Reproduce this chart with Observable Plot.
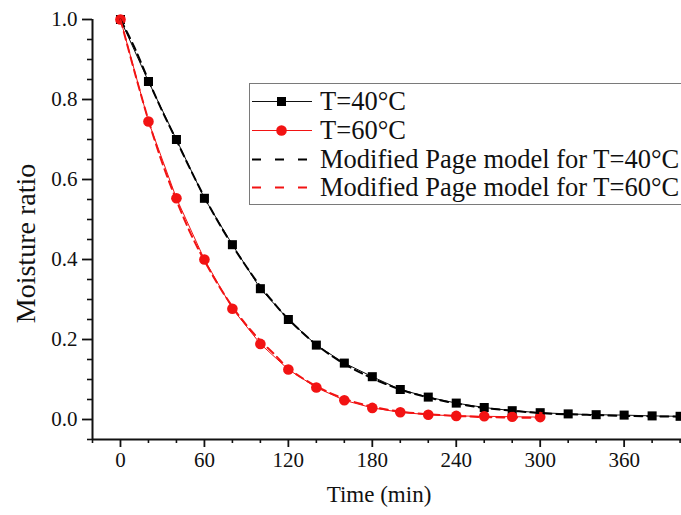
<!DOCTYPE html>
<html>
<head>
<meta charset="utf-8">
<script src="https://cdn.jsdelivr.net/npm/d3@7"></script>
<script src="https://cdn.jsdelivr.net/npm/@observablehq/plot@0.6"></script>
<style>
  html, body { margin: 0; padding: 0; background: #fff; }
  #wrap { position: relative; width: 681px; height: 515px; overflow: hidden; font-family: "Liberation Serif", "Times New Roman", serif; color: #111; }
  #wrap svg text { font-family: "Liberation Serif", "Times New Roman", serif !important; }
  #legend { position: absolute; left: 249px; top: 83px; width: 460px; height: 122px; border: 1px solid #7a7a7a; background: #fff; box-sizing: border-box; }
  .row { position: absolute; left: 0; height: 29px; width: 460px; }
  .row svg { position: absolute; left: 2px; top: 0; }
  .row span { position: absolute; left: 70px; top: 50%; transform: translateY(-52%); font-size: 26.5px; white-space: nowrap; line-height: 1; }
</style>
</head>
<body>
<div id="wrap"></div>
<script>
// ---- data ----
const time40 = [0, 20, 40, 60, 80, 100, 120, 140, 160, 180, 200, 220, 240, 260, 280, 300, 320, 340, 360, 380, 400];
const mr40   = [1.0, 0.845, 0.70, 0.553, 0.437, 0.327, 0.25, 0.186, 0.141, 0.107, 0.075, 0.056, 0.041, 0.030, 0.022, 0.017, 0.014, 0.012, 0.011, 0.009, 0.008];

const time60 = [0, 20, 40, 60, 80, 100, 120, 140, 160, 180, 200, 220, 240, 260, 280, 300];
const mr60   = [1.0, 0.745, 0.553, 0.40, 0.277, 0.189, 0.125, 0.080, 0.048, 0.029, 0.018, 0.012, 0.009, 0.008, 0.007, 0.006];

const timeModel40 = [0, 10, 20, 30, 40, 50, 60, 70, 80, 90, 100, 110, 120, 140, 160, 180, 200, 220, 240, 260, 280, 300, 320, 340, 360, 380, 400];
const model40     = [1.0, 0.93, 0.848, 0.77, 0.698, 0.625, 0.556, 0.493, 0.435, 0.382, 0.333, 0.29, 0.251, 0.187, 0.139, 0.103, 0.075, 0.055, 0.040, 0.029, 0.022, 0.016, 0.013, 0.011, 0.009, 0.008, 0.007];

const timeModel60 = [0, 10, 20, 30, 40, 50, 60, 70, 80, 90, 100, 110, 120, 140, 160, 180, 200, 220, 240, 260, 280, 300];
const model60     = [1.0, 0.87, 0.748, 0.64, 0.548, 0.466, 0.397, 0.336, 0.282, 0.236, 0.197, 0.163, 0.128, 0.083, 0.052, 0.032, 0.020, 0.013, 0.009, 0.006, 0.005, 0.004];

const xMajorTicks = [0, 60, 120, 180, 240, 300, 360];
const xMinorTicks = [-20, 20, 40, 80, 100, 140, 160, 200, 220, 260, 280, 320, 340, 380, 400];
const yMajorTicks = [0.0, 0.2, 0.4, 0.6, 0.8, 1.0];
const yMinorTicks = [-0.05, 0.05, 0.1, 0.15, 0.25, 0.3, 0.35, 0.45, 0.5, 0.55, 0.65, 0.7, 0.75, 0.85, 0.9, 0.95];

const xLabel = "Time (min)";
const yLabel = "Moisture ratio";
const seriesNames = ["T=40°C", "T=60°C", "Modified Page model for T=40°C", "Modified Page model for T=60°C"];

// ---- tables ----
const d40 = time40.map((t, i) => ({t, v: mr40[i]}));
const d60 = time60.map((t, i) => ({t, v: mr60[i]}));
const m40 = timeModel40.map((t, i) => ({t, v: model40[i]}));
const m60 = timeModel60.map((t, i) => ({t, v: model60[i]}));

const RED = "#f21313";
const FONT = "'Liberation Serif', 'Times New Roman', serif";

const chart = Plot.plot({
  width: 681,
  height: 515,
  marginTop: 19,
  marginBottom: 76,
  marginLeft: 92,
  marginRight: 0,
  style: {fontFamily: FONT, fontSize: "21px", color: "#111", background: "#fff", overflow: "visible"},
  x: {domain: [-20, 401], axis: null},
  y: {domain: [-0.05, 1.0], axis: null},
  marks: [
    // minor ticks
    Plot.axisX(xMinorTicks, {tickSize: 4, strokeWidth: 1.6, tickFormat: () => "", label: null}),
    Plot.axisY(yMinorTicks, {tickSize: 5, strokeWidth: 1.6, tickFormat: () => "", label: null}),
    // major ticks + labels
    Plot.axisX(xMajorTicks, {tickSize: 8, tickPadding: 5, strokeWidth: 1.8, fontSize: 21, fontFamily: FONT, tickFormat: d => String(d), label: null}),
    Plot.axisY(yMajorTicks, {tickSize: 10, tickPadding: 5, strokeWidth: 1.8, fontSize: 21, fontFamily: FONT, tickFormat: d3.format(".1f"), label: null}),
    // axis lines
    Plot.ruleY([-0.05], {stroke: "#111", strokeWidth: 2}),
    Plot.ruleX([-20], {stroke: "#111", strokeWidth: 2}),
    // axis titles
    Plot.text([xLabel], {frameAnchor: "bottom", dy: 62, dx: -8, fontSize: 23, fontFamily: FONT, fill: "#111"}),
    Plot.text([yLabel], {frameAnchor: "left", textAnchor: "middle", dx: -66, dy: 14, rotate: -90, fontSize: 28, fontFamily: FONT, fill: "#111"}),
    // experimental data
    Plot.line(d40, {x: "t", y: "v", stroke: "#111", strokeWidth: 1}),
    Plot.line(d60, {x: "t", y: "v", stroke: RED, strokeWidth: 1}),
    Plot.dot(d40, {x: "t", y: "v", symbol: "square", fill: "#000", r: 5.1}),
    Plot.dot(d60, {x: "t", y: "v", symbol: "circle", fill: RED, r: 5.3}),
    // model curves
    Plot.line(m40, {x: "t", y: "v", stroke: "#000", strokeWidth: 2, strokeDasharray: "8,5", curve: "catmull-rom"}),
    Plot.line(m60, {x: "t", y: "v", stroke: RED, strokeWidth: 2, strokeDasharray: "8,5", curve: "catmull-rom"})
  ]
});

const wrap = document.getElementById("wrap");
wrap.appendChild(chart);

// ---- legend ----
const legend = document.createElement("div");
legend.id = "legend";
const swatches = [
  `<line x1="0" y1="14.5" x2="60" y2="14.5" stroke="#111" stroke-width="1.2"/><rect x="25" y="10" width="9" height="9" fill="#000"/>`,
  `<line x1="0" y1="14.5" x2="60" y2="14.5" stroke="${RED}" stroke-width="1.2"/><circle cx="29.5" cy="14.5" r="5.3" fill="${RED}"/>`,
  `<line x1="0" y1="14.5" x2="56" y2="14.5" stroke="#000" stroke-width="2" stroke-dasharray="9,14"/>`,
  `<line x1="0" y1="14.5" x2="56" y2="14.5" stroke="${RED}" stroke-width="2" stroke-dasharray="9,14"/>`
];
const rowTops = [3, 32, 61, 89];
seriesNames.forEach((name, i) => {
  const row = document.createElement("div");
  row.className = "row";
  row.style.top = rowTops[i] + "px";
  row.innerHTML = `<svg width="62" height="29">${swatches[i]}</svg><span>${name}</span>`;
  legend.appendChild(row);
});
wrap.appendChild(legend);
</script>
</body>
</html>
